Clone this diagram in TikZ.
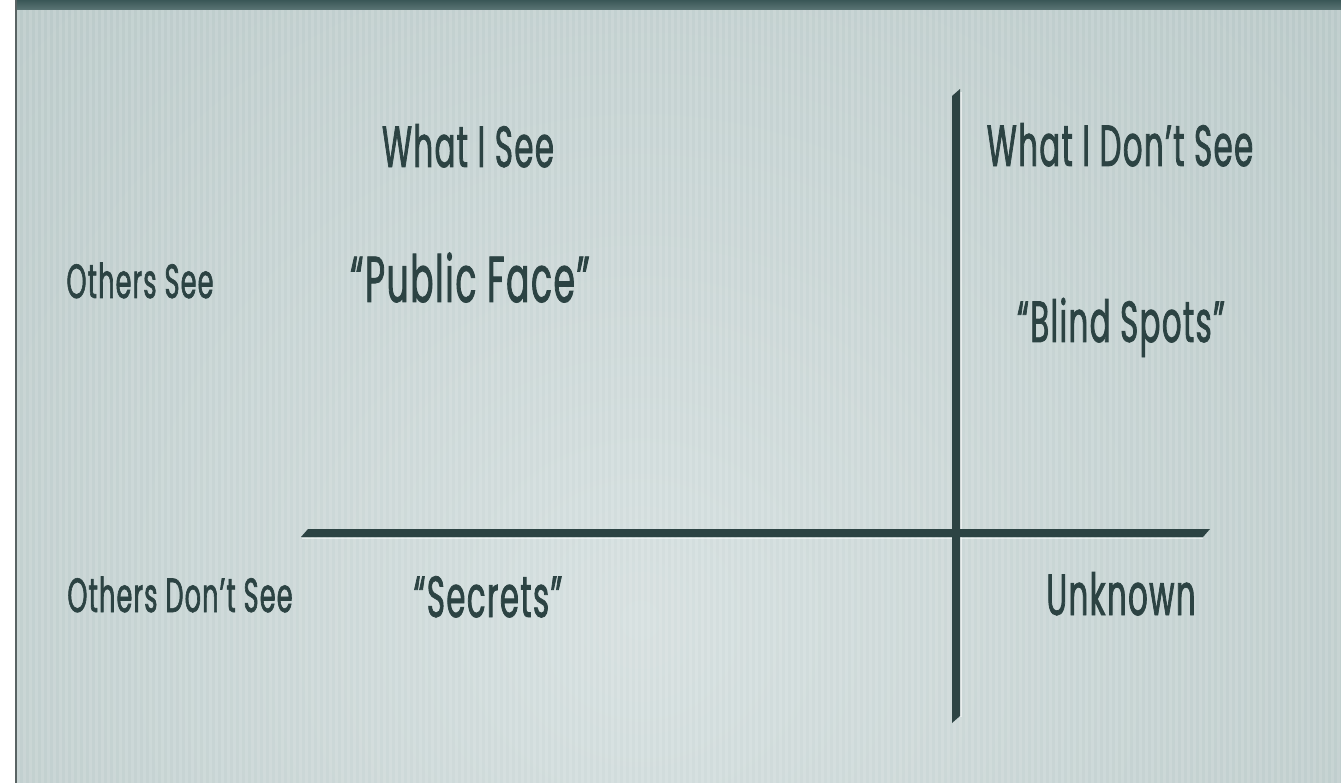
\documentclass[tikz,border=0pt]{standalone}
\usepackage{fontspec}
\newfontfamily\futu[FakeStretch=0.53,FakeBold=1.3,LetterSpace=2.5]{Poppins}
\definecolor{bgbase}{HTML}{A8BBBA}
\definecolor{bglight}{HTML}{D6E0E0}
\definecolor{ink}{HTML}{2C4343}
\definecolor{band}{HTML}{3A5757}
\definecolor{edge}{HTML}{5A6464}
\tikzset{
  lbl/.style={font=\futu\fontsize{58}{62}\selectfont, text=ink, anchor=base, inner sep=0pt},
  biglbl/.style={lbl, font=\futu\fontsize{65}{68}\selectfont},
  sidelbl/.style={lbl, font=\futu\fontsize{48}{50}\selectfont},
  bar/.style={fill=ink},
  glint/.style={draw=white, draw opacity=0.55, line width=1.2pt}
}
\begin{document}
\begin{tikzpicture}[x=1pt,y=-1pt]
\useasboundingbox (0,0) rectangle (1341,783);
\fill[white] (0,0) rectangle (1341,783);
% slide background
\begin{scope}
\clip (16,0) rectangle (1341,783);
\fill[bgbase] (16,0) rectangle (1341,783);
\shade[inner color=bglight, outer color=bgbase] (640,620) circle (1500);
\foreach \i in {0,...,221}{
  \fill[white, opacity=0.12] ({17+6*\i},0) rectangle ({20+6*\i},783);
}
\shade[top color=band, bottom color=band!70!bgbase] (16,0) rectangle (1341,10);
\end{scope}
\fill[edge] (15,0) rectangle (16.5,783);
% axes
\coordinate (vtopL) at (952,96);
\coordinate (vtopR) at (960,89);
\coordinate (vbotR) at (960,716);
\coordinate (vbotL) at (952,723);
\coordinate (hL1) at (301,537);
\coordinate (hL2) at (308,529);
\coordinate (hR1) at (1210,529);
\coordinate (hR2) at (1203,537);
\draw[glint] (961,92) -- (961,717);
\draw[glint] (302,538.5) -- (1203,538.5);
\fill[bar] (vtopL) -- (vtopR) -- (vbotR) -- (vbotL) -- cycle;
\fill[bar] (hL1) -- (hL2) -- (hR1) -- (hR2) -- cycle;
% labels
\node[lbl] (wis) at (468,167) {What I See};
\node[lbl] (wids) at (1120,166) {What I Don’t See};
\node[sidelbl] (os) at (140,298) {Others See};
\node[sidelbl] (ods) at (180,612) {Others Don’t See};
\node[biglbl] (pf) at (470,302) {“Public Face”};
\node[lbl] (bs) at (1121,342) {“Blind Spots”};
\node[lbl] (sec) at (488,617) {“Secrets”};
\node[lbl] (unk) at (1121,615) {Unknown};
\end{tikzpicture}
\end{document}
